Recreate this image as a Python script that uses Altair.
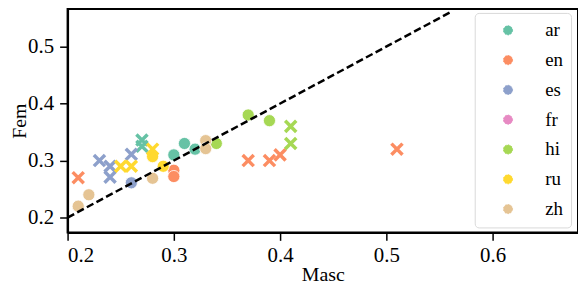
import altair as alt
import pandas as pd

langs = ["ar", "en", "es", "fr", "hi", "ru", "zh"]
lang_colors = ["#66c2a5", "#fc8d62", "#8da0cb", "#e78ac3", "#a6d854", "#ffd92f", "#e5c494"]

# circle markers
circle_lang = ["ar", "ar", "ar", "en", "en", "es", "hi", "hi", "hi", "ru", "ru",
               "zh", "zh", "zh", "zh", "zh"]
circle_masc = [0.30, 0.31, 0.32, 0.30, 0.30, 0.26, 0.34, 0.37, 0.39, 0.29, 0.28,
               0.21, 0.22, 0.28, 0.33, 0.33]
circle_fem = [0.31, 0.33, 0.32, 0.283, 0.272, 0.261, 0.33, 0.38, 0.37, 0.29, 0.307,
              0.22, 0.24, 0.269, 0.335, 0.321]

# x markers
cross_lang = ["ar", "ar", "en", "en", "en", "en", "en", "es", "es", "es", "es",
              "hi", "hi", "ru", "ru", "ru"]
cross_masc = [0.27, 0.27, 0.21, 0.37, 0.39, 0.40, 0.51, 0.23, 0.24, 0.24, 0.26,
              0.41, 0.41, 0.25, 0.26, 0.28]
cross_fem = [0.336, 0.325, 0.27, 0.30, 0.30, 0.31, 0.32, 0.30, 0.29, 0.271, 0.311,
             0.36, 0.33, 0.29, 0.29, 0.32]

# reference diagonal
line_masc = [0.2, 0.56]
line_fem = [0.2, 0.56]

x_ticks = [0.2, 0.3, 0.4, 0.5, 0.6]
y_ticks = [0.2, 0.3, 0.4, 0.5]

FONT = "Liberation Serif, Times New Roman, serif"

circles = pd.DataFrame({"Masc": circle_masc, "Fem": circle_fem, "lang": circle_lang})
crosses = pd.DataFrame({"Masc": cross_masc, "Fem": cross_fem, "lang": cross_lang})
diag = pd.DataFrame({"Masc": line_masc, "Fem": line_fem})

xscale = alt.Scale(domain=[0.2, 0.6804], nice=False, zero=False)
yscale = alt.Scale(domain=[0.174, 0.566], nice=False, zero=False)
cscale = alt.Scale(domain=langs, range=lang_colors)

xenc = alt.X("Masc:Q", scale=xscale,
             axis=alt.Axis(title="Masc", values=x_ticks, format=".1f",
                           titlePadding=-1, labelPadding=4))
yenc = alt.Y("Fem:Q", scale=yscale,
             axis=alt.Axis(title="Fem", values=y_ticks, format=".1f",
                           titlePadding=-2, labelPadding=6))

legend = alt.Legend(
    title=None, orient="none", legendX=410, legendY=4,
    symbolType="circle", symbolSize=85, symbolStrokeColor="white",
    symbolStrokeWidth=1, symbolDash=[1.5, 1.5], symbolOpacity=1,
    labelFont=FONT, labelFontSize=19, labelColor="black",
    padding=8, rowPadding=10, symbolOffset=16, labelOffset=28,
    strokeColor="#d9d9d9", fillColor="white", cornerRadius=4,
)

circle_layer = alt.Chart(circles).mark_circle(
    size=150, opacity=1, stroke="white", strokeWidth=0.8
).encode(x=xenc, y=yenc, color=alt.Color("lang:N", scale=cscale, legend=legend))

cross_layer = alt.Chart(crosses).mark_point(
    shape="M-1,-1L1,1M-1,1L1,-1", filled=False, size=125, strokeWidth=3.5, opacity=1
).encode(x=xenc, y=yenc, color=alt.Color("lang:N", scale=cscale, legend=None))

line_layer = alt.Chart(diag).mark_line(
    color="black", strokeDash=[7.5, 3.5], strokeWidth=2.5
).encode(x=xenc, y=yenc)

chart = alt.layer(circle_layer, cross_layer, line_layer).properties(
    width=514, height=225,
    padding={"left": 60, "top": 0, "right": 0, "bottom": 52},
    autosize="none",
).configure_view(
    stroke="black", strokeWidth=2
).configure_axis(
    grid=False, labelFont=FONT, labelFontSize=21, labelColor="black",
    titleFont=FONT, titleFontSize=20, titleFontWeight="normal", titleColor="black",
    tickColor="black", tickWidth=1.5, tickSize=8,
    domainColor="black", domainWidth=2,
)

chart.save("out.html", embed_options={"renderer": "svg", "actions": False})
